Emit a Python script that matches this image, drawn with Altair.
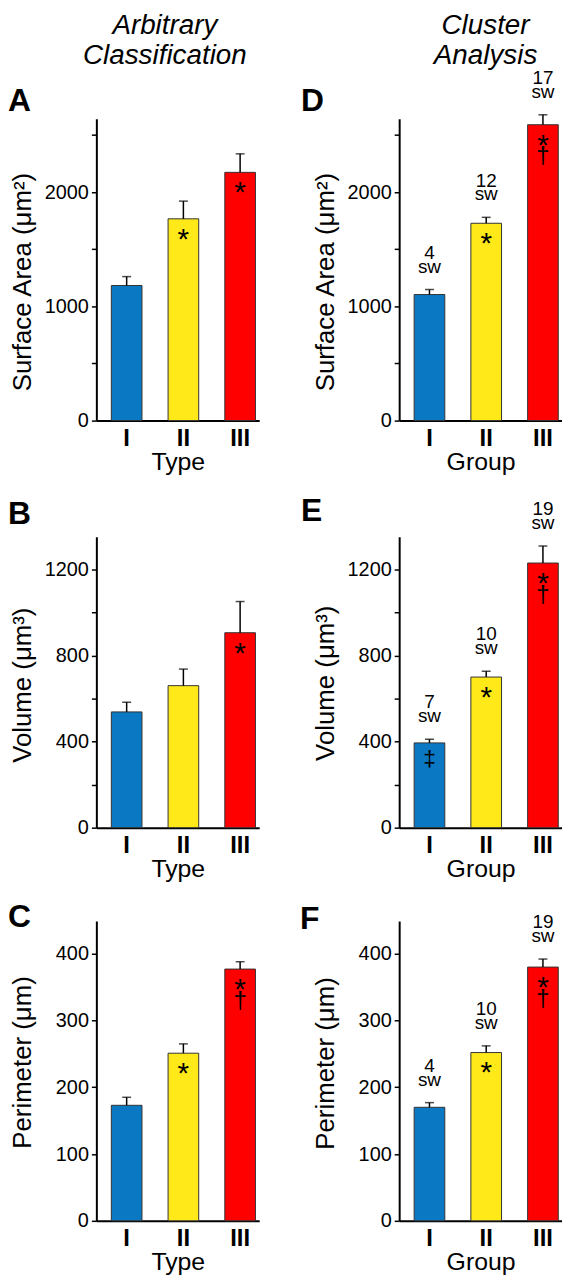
import altair as alt
import pandas as pd

groups = ["I", "II", "III"]
colors = ["#0a78c3", "#ffe919", "#ff0000"]

# Panel A: surface area by type
A_mean = [1183, 1767, 2174]
A_err = [78, 155, 162]
A_star = ["", "*", "*"]
A_dag = ["", "", ""]
A_top = ["", "", ""]

# Panel B: volume by type
B_mean = [538, 660, 906]
B_err = [45, 77, 145]
B_star = ["", "", "*"]
B_dag = ["", "", ""]
B_top = ["", "", ""]

# Panel C: perimeter by type
C_mean = [173, 251, 377]
C_err = [12, 14, 11]
C_star = ["", "*", "*"]
C_dag = ["", "", "†"]
C_top = ["", "", ""]

# Panel D: surface area by group
D_mean = [1104, 1728, 2591]
D_err = [44, 52, 87]
D_star = ["", "*", "*"]
D_dag = ["", "", "†"]
D_top = ["", "", ""]
D_n = ["4", "12", "17"]

# Panel E: volume by group
E_mean = [394, 700, 1230]
E_err = [17, 27, 79]
E_star = ["", "*", "*"]
E_dag = ["", "", "†"]
E_top = ["‡", "", ""]
E_n = ["7", "10", "19"]

# Panel F: perimeter by group
F_mean = [170, 252, 380]
F_err = [7, 10, 12]
F_star = ["", "*", "*"]
F_dag = ["", "", "†"]
F_top = ["", "", ""]
F_n = ["4", "10", "19"]

FONT = "Liberation Sans"
W = 164


def panel(mean, err, star, dag, topsym, counts, ymax, tick_step, label_step,
          ytitle, ytitle_y, xtitle, letter, letter_x, letter_y, height,
          col_title=None, col_title_x=0):
    df = pd.DataFrame({"group": groups, "mean": mean, "err": err,
                       "star": star, "dag": dag, "topsym": topsym})
    df["top"] = df["mean"] + df["err"]
    df["n"] = counts if counts else ["", "", ""]
    df["sw"] = ["sw", "sw", "sw"] if counts else ["", "", ""]

    x = alt.X("group:N", sort=groups,
              scale=alt.Scale(paddingInner=0.46, paddingOuter=0.165, align=0.8),
              axis=alt.Axis(title=xtitle, labelAngle=0, ticks=False, tickSize=0,
                            labelFontSize=24, labelFontWeight="bold", labelPadding=6,
                            labelColor="black", labelFont=FONT,
                            titleFontSize=25, titleFontWeight="normal", titleColor="black",
                            titleFont=FONT, titleY=49, titleBaseline="alphabetic",
                            domainWidth=2, domainColor="black"))
    yscale = alt.Scale(domain=[0, ymax], nice=False, zero=True)
    vals = list(range(0, int(ymax) + 1, tick_step))
    y = alt.Y("mean:Q", scale=yscale,
              axis=alt.Axis(values=vals,
                            labelExpr=f"datum.value % {label_step} === 0 ? datum.label : ''",
                            format="d", grid=False, tickSize=5, tickWidth=1.5,
                            tickColor="black", domainWidth=2, domainColor="black",
                            labelFontSize=20, labelPadding=3, labelColor="black",
                            labelFont=FONT, title=ytitle, titleFontSize=26,
                            titleFontWeight="normal", titleColor="black", titleFont=FONT,
                            titleAngle=270, titleX=-66, titleY=ytitle_y,
                            titleBaseline="alphabetic", titleAlign="center"))
    base = alt.Chart(df)
    xs = alt.X("group:N", sort=groups)
    bars = base.mark_bar(stroke="#333333", strokeWidth=1).encode(
        x=x, y=y,
        color=alt.Color("group:N", scale=alt.Scale(domain=groups, range=colors), legend=None))
    rule = base.mark_rule(color="black", strokeWidth=1.5).encode(
        x=xs, y=alt.Y("mean:Q"), y2="top:Q")
    cap = base.mark_tick(color="black", thickness=1.5, size=9).encode(
        x=xs, y=alt.Y("top:Q"))
    stars = base.mark_text(fontSize=30, baseline="alphabetic", dy=30, color="black",
                           font=FONT).encode(x=xs, y=alt.Y("mean:Q"), text="star:N")
    dags = base.mark_text(fontSize=24, baseline="alphabetic", dy=40, color="black",
                          font=FONT).encode(x=xs, y=alt.Y("mean:Q"), text="dag:N")
    tops = base.mark_text(fontSize=23, baseline="alphabetic", dy=23, color="black",
                          font=FONT).encode(x=xs, y=alt.Y("mean:Q"), text="topsym:N")
    layers = [bars, rule, cap, stars, dags, tops]
    if counts:
        ntext = base.mark_text(fontSize=19, baseline="middle", dy=-37, color="black",
                               font=FONT).encode(x=xs, y=alt.Y("top:Q"), text="n:N")
        swtext = base.mark_text(fontSize=19, baseline="middle", dy=-23, color="black",
                                font=FONT).encode(x=xs, y=alt.Y("top:Q"), text="sw:N")
        layers += [ntext, swtext]
    let = alt.Chart(alt.Data(values=[{"t": letter}])).mark_text(
        fontSize=32, fontWeight="bold", align="left", baseline="alphabetic",
        color="black", font=FONT).encode(
        x=alt.value(letter_x), y=alt.value(letter_y), text="t:N")
    layers.append(let)
    if col_title:
        ct = alt.Chart(alt.Data(values=[{"t": col_title}])).mark_text(
            fontSize=28, fontStyle="italic", lineBreak="\n", lineHeight=30,
            align="center", baseline="alphabetic", color="black", font=FONT).encode(
            x=alt.value(col_title_x), y=alt.value(-85), text="t:N")
        layers.append(ct)
    return alt.layer(*layers).properties(width=W, height=height)


def spacer(h):
    return alt.Chart(alt.Data(values=[{"a": 0}])).mark_rule(opacity=0).encode(
        x=alt.value(0), y=alt.value(0), y2=alt.value(1)).properties(width=W, height=h)


pA = panel(A_mean, A_err, A_star, A_dag, A_top, None, 2643, 500, 1000,
           "Surface Area (μm²)", 164, "Type", "A", -89, -8, 304,
           "Arbitrary\nClassification", 69)
pD = panel(D_mean, D_err, D_star, D_dag, D_top, D_n, 2643, 500, 1000,
           "Surface Area (μm²)", 164, "Group", "D", -99, -8, 304,
           "Cluster\nAnalysis", 87)
pB = panel(B_mean, B_err, B_star, B_dag, B_top, None, 1352, 200, 400,
           "Volume (μm³)", 149, "Type", "B", -89, -13, 293)
pE = panel(E_mean, E_err, E_star, E_dag, E_top, E_n, 1352, 200, 400,
           "Volume (μm³)", 147, "Group", "E", -99, -16, 293)
pC = panel(C_mean, C_err, C_star, C_dag, C_top, None, 449, 100, 100,
           "Perimeter (μm)", 142, "Type", "C", -89, 6, 302)
pF = panel(F_mean, F_err, F_star, F_dag, F_top, F_n, 449, 100, 100,
           "Perimeter (μm)", 143, "Group", "F", -100, 8, 302)

chart = alt.concat(pA, pD, spacer(117), spacer(117), pB, pE, spacer(94), spacer(94),
                   pC, pF, columns=2, spacing={"row": 0, "column": 141},
                   bounds="flush").properties(
    padding=0, background="white"
).configure(font=FONT, view=alt.ViewConfig(stroke=None))

chart.save("out.html", embed_options={"renderer": "svg", "actions": False})
